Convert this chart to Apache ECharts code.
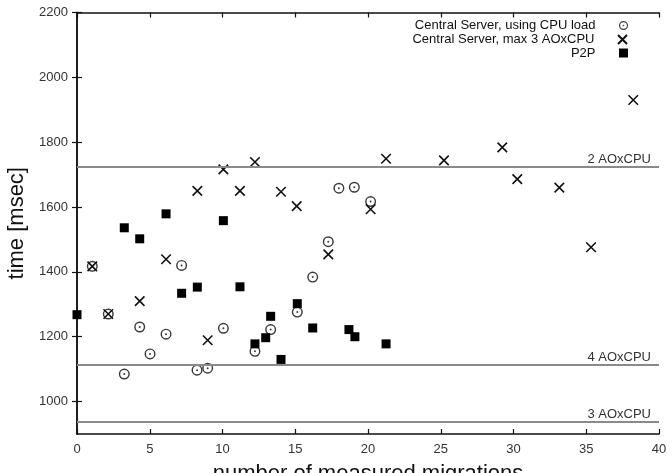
<!DOCTYPE html>
<html>
<head>
<meta charset="utf-8">
<script src="https://cdn.jsdelivr.net/npm/echarts@6/dist/echarts.min.js"></script>
<style>html,body{margin:0;padding:0;background:#fff}#c{width:672px;height:473px}</style>
</head>
<body>
<div id="c"></div>
<script>
// ---- data ----
var seriesNames = ['Central Server, using CPU load', 'Central Server, max 3 AOxCPU', 'P2P'];
var cpuX = [1.05, 2.15, 3.25, 4.31, 5.02, 6.12, 7.19, 8.25, 8.98, 10.06, 12.23, 13.31, 15.14, 16.2, 17.27, 18.0, 19.06, 20.18];
var cpuY = [1417, 1270, 1085, 1230, 1147, 1208, 1420, 1097, 1103, 1226, 1155, 1222, 1276, 1384, 1493, 1658, 1661, 1617];
var maxX = [1.05, 2.15, 4.31, 6.12, 8.27, 8.98, 10.06, 11.2, 12.23, 14.02, 15.1, 17.27, 20.18, 21.24, 25.22, 29.23, 30.26, 33.15, 35.33, 38.23];
var maxY = [1417, 1270, 1310, 1439, 1650, 1189, 1716, 1650, 1739, 1647, 1603, 1454, 1593, 1749, 1744, 1784, 1686, 1660, 1476, 1930];
var p2pX = [0, 3.25, 4.31, 6.12, 7.19, 8.27, 10.06, 11.2, 12.23, 12.97, 13.31, 14.02, 15.14, 16.2, 18.69, 19.1, 21.24];
var p2pY = [1268, 1536, 1502, 1579, 1334, 1353, 1558, 1354, 1178, 1197, 1263, 1130, 1302, 1227, 1222, 1200, 1178];
var refLabels = ['2 AOxCPU', '4 AOxCPU', '3 AOxCPU'];
var refValues = [1725, 1113, 938];
var yTickValues = [1000, 1200, 1400, 1600, 1800, 2000, 2200];
var xTitle = 'number of measured migrations';
var yTitle = 'time [msec]';

function pairs(xs, ys) { return xs.map(function (x, i) { return [x, ys[i]]; }); }

var FONT = '"Liberation Sans", Arial, Helvetica, sans-serif';
var ringPath = 'path://M0,-10A10,10 0 1,1 0,10A10,10 0 1,1 0,-10Z M0,-7.4A7.4,7.4 0 1,0 0,7.4A7.4,7.4 0 1,0 0,-7.4Z M0,-1.8A1.8,1.8 0 1,1 0,1.8A1.8,1.8 0 1,1 0,-1.8Z';
var crossPath = 'path://M0,0L10,10M10,0L0,10';
var squarePath = 'path://M0,0H10V10H0Z';

var chart = echarts.init(document.getElementById('c'), null, { renderer: 'canvas' });

var axisLineStyle = { color: '#111', width: 1.5 };
function legendCfg(name, top) {
  return {
    data: [name], right: 44, top: top, orient: 'vertical', align: 'right',
    padding: 0, itemWidth: 46, itemHeight: 9, itemGap: 0,
    selectedMode: false,
    textStyle: { fontFamily: FONT, fontSize: 13, color: '#111', lineHeight: 13 }
  };
}
function plain(v) { return String(v); }

var option = {
  animation: false,
  backgroundColor: '#fff',
  grid: { left: 77, right: 13, top: 12.5, bottom: 39, containLabel: false, outerBoundsMode: 'none' },
  legend: [legendCfg(seriesNames[0], 19), legendCfg(seriesNames[1], 33), legendCfg(seriesNames[2], 46.5)],
  xAxis: [{
    type: 'value', min: 0, max: 40, interval: 5, position: 'bottom',
    axisLine: { lineStyle: axisLineStyle },
    axisTick: { inside: true, length: 5, lineStyle: { color: '#111', width: 1.2 } },
    axisLabel: { fontFamily: FONT, fontSize: 13, color: '#333', margin: 9, formatter: plain },
    splitLine: { show: false },
    name: xTitle, nameLocation: 'middle', nameGap: 29,
    nameTextStyle: { fontFamily: FONT, fontSize: 22, color: '#111' }
  }, {
    type: 'value', min: 0, max: 40, interval: 5, position: 'top',
    axisLine: { lineStyle: axisLineStyle },
    axisTick: { inside: true, length: 5, lineStyle: { color: '#111', width: 1.2 } },
    axisLabel: { show: false }, splitLine: { show: false }
  }],
  yAxis: [{
    type: 'value', min: 900, max: 2200, position: 'left',
    axisLine: { show: true, lineStyle: axisLineStyle },
    axisTick: { show: true, inside: true, length: 5, customValues: yTickValues, lineStyle: { color: '#111', width: 1.2 } },
    axisLabel: { fontFamily: FONT, fontSize: 13, color: '#333', margin: 9, customValues: yTickValues, formatter: plain },
    splitLine: { show: false },
    name: yTitle, nameLocation: 'middle', nameGap: 48,
    nameTextStyle: { fontFamily: FONT, fontSize: 22, color: '#111' }
  }, {
    type: 'value', min: 900, max: 2200, position: 'right',
    axisLine: { show: true, lineStyle: axisLineStyle },
    axisTick: { show: true, inside: true, length: 5, customValues: yTickValues, lineStyle: { color: '#111', width: 1.2 } },
    axisLabel: { show: false }, splitLine: { show: false }
  }],
  series: [{
    name: 'refs', type: 'scatter', data: [], xAxisIndex: 0, yAxisIndex: 0,
    markLine: {
      silent: true, symbol: ['none', 'none'], animation: false,
      lineStyle: { color: '#8a8a8a', width: 2, type: 'solid' },
      label: { show: true, position: 'insideEndTop', distance: [8, 1], fontFamily: FONT, fontSize: 13, color: '#333',
        formatter: function (p) { return p.name; } },
      emphasis: { disabled: true },
      data: refValues.map(function (v, i) { return { yAxis: v, name: refLabels[i] }; })
    }
  }, {
    name: seriesNames[0], type: 'scatter', data: pairs(cpuX, cpuY),
    symbol: ringPath, symbolSize: 11, symbolKeepAspect: true,
    itemStyle: { color: '#3a3a3a', opacity: 1 }
  }, {
    name: seriesNames[1], type: 'scatter', data: pairs(maxX, maxY),
    symbol: crossPath, symbolSize: 9.5, symbolKeepAspect: true,
    itemStyle: { color: 'rgba(0,0,0,0)', borderColor: '#111', borderWidth: 1.6, opacity: 1 }
  }, {
    name: seriesNames[2], type: 'scatter', data: pairs(p2pX, p2pY),
    symbol: squarePath, symbolSize: 9, symbolKeepAspect: true,
    itemStyle: { color: '#000', opacity: 1 }
  }]
};
chart.setOption(option);
</script>
</body>
</html>
